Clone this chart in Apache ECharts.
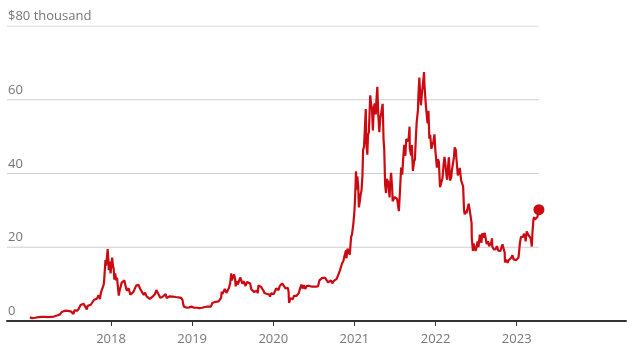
<!DOCTYPE html>
<html lang="en">

<head>
    <meta charset="UTF-8">
    <title>Bitcoin price</title>
    <script src="https://cdn.jsdelivr.net/npm/echarts@6/dist/echarts.min.js"></script>
    <style>
        body {
            margin: 0;
            background: #fff;
        }

        #chart {
            width: 640px;
            height: 354px;
        }
    </style>
</head>

<body>
    <div id="chart"></div>

    <script>
        // price in $ thousand, [month-day, value] per year
        const y2017 = [['01-01', 0.99], ['01-05', 1.15], ['01-11', 0.78], ['01-18', 0.90], ['01-25', 0.89], ['02-01', 0.99], ['02-08', 1.05], ['02-15', 1.01], ['02-22', 1.12], ['03-01', 1.22], ['03-08', 1.15], ['03-15', 1.25], ['03-22', 1.04], ['03-29', 1.04], ['04-05', 1.13], ['04-12', 1.21], ['04-19', 1.21], ['04-26', 1.32], ['05-03', 1.50], ['05-10', 1.76], ['05-17', 1.80], ['05-24', 2.44], ['05-27', 2.05], ['06-01', 2.41], ['06-08', 2.80], ['06-12', 2.66], ['06-15', 2.45], ['06-20', 2.76], ['06-27', 2.58], ['07-04', 2.60], ['07-11', 2.33], ['07-16', 1.93], ['07-20', 2.86], ['07-27', 2.67], ['08-03', 2.81], ['08-10', 3.42], ['08-17', 4.33], ['08-24', 4.32], ['08-31', 4.70], ['09-07', 4.60], ['09-14', 3.15], ['09-18', 4.10], ['09-25', 3.93], ['10-02', 4.40], ['10-09', 4.77], ['10-16', 5.70], ['10-23', 5.90], ['10-30', 6.13], ['11-06', 7.02], ['11-12', 5.95], ['11-17', 7.79], ['11-24', 8.23], ['11-29', 9.88], ['12-01', 10.9], ['12-07', 16.5], ['12-10', 15.0], ['12-13', 16.9], ['12-17', 19.5], ['12-20', 16.6], ['12-22', 13.8], ['12-26', 16.1], ['12-30', 12.9]];
        const y2018 = [['01-02', 14.8], ['01-06', 17.2], ['01-10', 14.9], ['01-13', 14.2], ['01-16', 11.2], ['01-20', 12.9], ['01-24', 11.0], ['01-28', 11.8], ['02-01', 9.2], ['02-05', 6.9], ['02-09', 8.3], ['02-13', 8.5], ['02-18', 10.4], ['02-22', 10.0], ['02-26', 10.3], ['03-02', 11.0], ['03-05', 11.4], ['03-10', 8.8], ['03-14', 8.2], ['03-18', 8.2], ['03-21', 8.9], ['03-25', 8.4], ['03-29', 7.1], ['04-01', 6.8], ['04-06', 6.6], ['04-12', 7.9], ['04-18', 8.2], ['04-24', 9.6], ['04-29', 9.4], ['05-05', 9.8], ['05-10', 9.0], ['05-16', 8.3], ['05-22', 8.0], ['05-28', 7.1], ['06-03', 7.7], ['06-10', 6.7], ['06-16', 6.5], ['06-24', 6.0], ['06-30', 6.4], ['07-07', 6.6], ['07-14', 6.3], ['07-18', 7.3], ['07-24', 8.4], ['07-30', 8.2], ['08-05', 7.0], ['08-10', 6.3], ['08-14', 6.2], ['08-20', 6.5], ['08-27', 6.9], ['09-04', 7.3], ['09-08', 6.2], ['09-15', 6.5], ['09-22', 6.7], ['09-29', 6.6], ['10-06', 6.6], ['10-12', 6.3], ['10-19', 6.5], ['10-26', 6.4], ['11-02', 6.4], ['11-09', 6.4], ['11-14', 6.2], ['11-19', 5.6], ['11-22', 4.5], ['11-25', 3.9], ['11-28', 4.3], ['12-03', 3.9], ['12-08', 3.6], ['12-14', 3.2], ['12-19', 3.7], ['12-24', 4.0], ['12-29', 3.9]];
        const y2019 = [['01-05', 3.9], ['01-10', 3.6], ['01-16', 3.6], ['01-22', 3.6], ['01-28', 3.4], ['02-03', 3.5], ['02-08', 3.6], ['02-15', 3.6], ['02-22', 3.9], ['02-27', 3.8], ['03-05', 3.8], ['03-12', 3.9], ['03-19', 4.0], ['03-26', 3.9], ['04-02', 4.9], ['04-09', 5.2], ['04-16', 5.2], ['04-23', 5.5], ['04-30', 5.3], ['05-06', 5.7], ['05-11', 6.3], ['05-14', 8.0], ['05-17', 7.3], ['05-22', 7.7], ['05-28', 8.7], ['06-04', 7.6], ['06-10', 8.0], ['06-16', 9.0], ['06-21', 10.2], ['06-26', 12.9], ['06-28', 11.0], ['07-01', 10.6], ['07-05', 11.0], ['07-09', 12.6], ['07-13', 11.4], ['07-16', 9.4], ['07-20', 10.8], ['07-26', 9.9], ['07-31', 10.1], ['08-05', 11.8], ['08-10', 11.3], ['08-15', 10.1], ['08-20', 10.8], ['08-25', 10.1], ['08-29', 9.5], ['09-05', 10.6], ['09-12', 10.2], ['09-19', 10.2], ['09-24', 8.6], ['09-30', 8.3], ['10-06', 7.9], ['10-12', 8.3], ['10-20', 8.2], ['10-23', 7.5], ['10-26', 9.6], ['10-30', 9.2], ['11-06', 9.3], ['11-12', 8.8], ['11-18', 8.2], ['11-22', 7.6], ['11-25', 7.1], ['12-01', 7.4], ['12-08', 7.5], ['12-13', 7.2], ['12-17', 6.6], ['12-22', 7.5], ['12-28', 7.3]];
        const y2020 = [['01-03', 7.3], ['01-08', 8.0], ['01-14', 8.8], ['01-19', 8.7], ['01-25', 8.4], ['01-30', 9.5], ['02-05', 9.6], ['02-10', 10.2], ['02-14', 10.4], ['02-19', 10.2], ['02-26', 8.8], ['03-02', 8.9], ['03-07', 9.0], ['03-10', 7.9], ['03-12', 4.9], ['03-16', 5.0], ['03-19', 6.2], ['03-24', 6.7], ['03-29', 5.9], ['04-03', 6.8], ['04-08', 7.3], ['04-14', 6.8], ['04-20', 6.9], ['04-25', 7.5], ['04-30', 8.7], ['05-07', 9.9], ['05-12', 8.8], ['05-18', 9.7], ['05-24', 8.7], ['05-31', 9.5], ['06-06', 9.7], ['06-12', 9.5], ['06-18', 9.4], ['06-24', 9.3], ['06-30', 9.2], ['07-07', 9.3], ['07-14', 9.2], ['07-21', 9.4], ['07-27', 11.0], ['08-02', 11.1], ['08-09', 11.7], ['08-16', 11.9], ['08-22', 11.7], ['08-30', 11.7], ['09-04', 10.5], ['09-10', 10.3], ['09-17', 11.0], ['09-23', 10.2], ['09-29', 10.8], ['10-06', 10.6], ['10-13', 11.4], ['10-20', 11.9], ['10-27', 13.6], ['11-02', 13.5], ['11-06', 15.6], ['11-12', 16.3], ['11-18', 17.8], ['11-24', 19.2], ['11-26', 17.0], ['12-01', 19.6], ['12-06', 19.2], ['12-11', 18.0], ['12-17', 22.8], ['12-21', 23.5], ['12-27', 26.3], ['12-31', 29.0]];
        const y2021 = [['01-03', 32.0], ['01-06', 36.8], ['01-08', 40.6], ['01-11', 35.6], ['01-14', 39.2], ['01-18', 36.6], ['01-21', 30.8], ['01-25', 32.4], ['01-29', 34.3], ['02-02', 35.5], ['02-06', 39.3], ['02-09', 46.4], ['02-13', 47.2], ['02-17', 52.1], ['02-21', 57.5], ['02-23', 48.8], ['02-28', 45.1], ['03-03', 50.4], ['03-07', 51.2], ['03-13', 61.2], ['03-17', 58.9], ['03-21', 57.5], ['03-25', 51.7], ['03-29', 57.6], ['04-02', 59.0], ['04-07', 56.0], ['04-10', 60.0], ['04-14', 63.5], ['04-18', 56.2], ['04-23', 51.2], ['04-27', 55.0], ['05-02', 56.6], ['05-08', 58.9], ['05-12', 49.2], ['05-15', 46.8], ['05-19', 37.0], ['05-21', 37.5], ['05-23', 34.7], ['05-27', 38.5], ['06-02', 37.6], ['06-08', 33.5], ['06-11', 37.3], ['06-15', 40.2], ['06-20', 35.6], ['06-22', 32.5], ['06-26', 32.2], ['07-01', 33.6], ['07-07', 33.8], ['07-12', 33.1], ['07-16', 31.4], ['07-20', 29.8], ['07-25', 35.4], ['07-30', 41.6], ['08-04', 39.7], ['08-08', 43.8], ['08-13', 47.8], ['08-18', 44.8], ['08-22', 49.3], ['08-27', 49.0], ['09-01', 48.8], ['09-06', 52.7], ['09-07', 46.8], ['09-13', 44.9], ['09-16', 47.7], ['09-21', 40.7], ['09-26', 43.2], ['09-30', 43.8], ['10-04', 49.2], ['10-08', 53.9], ['10-14', 57.4], ['10-16', 61.5], ['10-20', 66.0], ['10-24', 61.0], ['10-27', 58.5], ['10-31', 61.3], ['11-05', 61.0], ['11-08', 66.0], ['11-10', 67.5], ['11-12', 64.2], ['11-16', 60.4], ['11-19', 58.0], ['11-23', 57.5], ['11-26', 53.6], ['11-30', 57.0], ['12-03', 56.5], ['12-04', 49.4], ['12-08', 50.5], ['12-13', 46.7], ['12-17', 46.2], ['12-22', 48.6], ['12-27', 50.6], ['12-31', 46.3]];
        const y2022 = [['01-04', 46.5], ['01-07', 41.6], ['01-12', 43.9], ['01-16', 43.1], ['01-21', 36.3], ['01-24', 36.6], ['01-28', 37.8], ['02-01', 38.7], ['02-06', 42.4], ['02-10', 44.5], ['02-14', 42.6], ['02-18', 40.0], ['02-22', 38.3], ['02-24', 38.3], ['02-28', 43.2], ['03-02', 44.4], ['03-07', 38.1], ['03-12', 38.8], ['03-16', 41.1], ['03-21', 41.0], ['03-25', 44.5], ['03-28', 47.1], ['04-02', 46.4], ['04-06', 43.2], ['04-11', 39.5], ['04-16', 40.5], ['04-20', 41.5], ['04-26', 38.1], ['04-30', 37.7], ['05-05', 36.5], ['05-09', 30.1], ['05-12', 28.9], ['05-16', 29.9], ['05-20', 29.2], ['05-25', 29.6], ['05-30', 31.8], ['06-04', 29.9], ['06-09', 30.1], ['06-12', 26.6], ['06-13', 22.5], ['06-18', 19.0], ['06-21', 21.0], ['06-25', 21.5], ['06-30', 19.0], ['07-05', 20.2], ['07-09', 21.6], ['07-13', 20.0], ['07-19', 23.4], ['07-23', 22.5], ['07-26', 21.2], ['07-30', 23.8], ['08-04', 22.6], ['08-10', 23.9], ['08-14', 24.3], ['08-19', 20.9], ['08-25', 21.6], ['08-30', 20.3], ['09-05', 19.8], ['09-09', 21.4], ['09-12', 22.4], ['09-13', 20.2], ['09-19', 19.5], ['09-23', 19.3], ['09-28', 19.4], ['10-04', 20.3], ['10-10', 19.1], ['10-14', 19.2], ['10-20', 19.0], ['10-25', 20.1], ['10-29', 20.8], ['11-05', 21.3], ['11-08', 18.5], ['11-09', 15.9], ['11-14', 16.6], ['11-18', 16.7], ['11-21', 15.8], ['11-26', 16.5], ['12-01', 17.0], ['12-06', 17.1], ['12-13', 17.8], ['12-18', 16.7], ['12-24', 16.8], ['12-30', 16.5]];
        const y2023 = [['01-04', 16.9], ['01-09', 17.2], ['01-12', 18.9], ['01-15', 20.9], ['01-20', 22.8], ['01-25', 23.1], ['01-30', 22.8], ['02-02', 23.7], ['02-08', 22.9], ['02-10', 21.6], ['02-15', 24.3], ['02-19', 24.3], ['02-24', 23.2], ['03-01', 23.6], ['03-05', 22.4], ['03-10', 20.2], ['03-13', 24.1], ['03-17', 27.4], ['03-20', 28.2], ['03-24', 27.5], ['03-30', 28.0], ['04-04', 28.2], ['04-08', 28.0], ['04-11', 30.2]];

        const years = [2017, 2018, 2019, 2020, 2021, 2022, 2023];
        const yearData = [y2017, y2018, y2019, y2020, y2021, y2022, y2023];
        const yearTicks = [2018, 2019, 2020, 2021, 2022, 2023];
        const gridValues = [20, 40, 60, 80];
        const xStart = 2016.718;
        const xEnd = 2024.347;

        function toYear(y, md) {
            let [m, d] = md.split('-').map(Number)
            let t0 = Date.UTC(y, 0, 1)
            let t1 = Date.UTC(y + 1, 0, 1)
            return y + (Date.UTC(y, m - 1, d) - t0) / (t1 - t0)
        }

        let points = []
        years.forEach((y, i) => {
            yearData[i].forEach(p => points.push([toYear(y, p[0]), p[1]]))
        })
        let last = points[points.length - 1]

        // gridlines stop at the last data point, not at the axis end
        let gridSeries = gridValues.map(v => ({
            type: 'line',
            silent: true,
            symbol: 'none',
            z: 1,
            data: [[xStart, v], [last[0], v]],
            lineStyle: { color: '#cfcfcf', width: 1 }
        }))

        var myChart = echarts.init(document.getElementById('chart'))
        var option = {
            animation: false,
            textStyle: { fontFamily: 'Open Sans' },
            grid: {
                left: 7,
                right: 14,
                top: 26,
                bottom: 33
            },
            xAxis: {
                type: 'value',
                min: xStart,
                max: xEnd,
                splitLine: { show: false },
                axisLine: { lineStyle: { color: '#333', width: 2 } },
                axisTick: {
                    customValues: yearTicks,
                    length: 5,
                    lineStyle: { color: '#333', width: 1 }
                },
                axisLabel: {
                    customValues: yearTicks,
                    formatter: v => String(Math.round(v)),
                    margin: 12,
                    fontSize: 13,
                    color: '#767676'
                }
            },
            yAxis: {
                type: 'value',
                min: 0,
                max: 80,
                interval: 20,
                splitLine: { show: false },
                axisLine: { show: false },
                axisTick: { show: false },
                axisLabel: {
                    inside: true,
                    margin: 1,
                    align: 'left',
                    verticalAlign: 'bottom',
                    padding: [0, 0, 3, 0],
                    fontSize: 13,
                    color: '#767676',
                    formatter: v => v === 80 ? '$80 thousand' : String(v)
                }
            },
            series: [
                ...gridSeries,
                {
                    type: 'line',
                    data: points,
                    symbol: 'none',
                    z: 3,
                    lineStyle: { color: '#cc0a11', width: 2.2 }
                },
                {
                    type: 'scatter',
                    data: [last],
                    symbolSize: 11,
                    z: 4,
                    itemStyle: { color: '#cc0a11', opacity: 1 }
                }
            ]
        }

        option && myChart.setOption(option)
    </script>
</body>

</html>
